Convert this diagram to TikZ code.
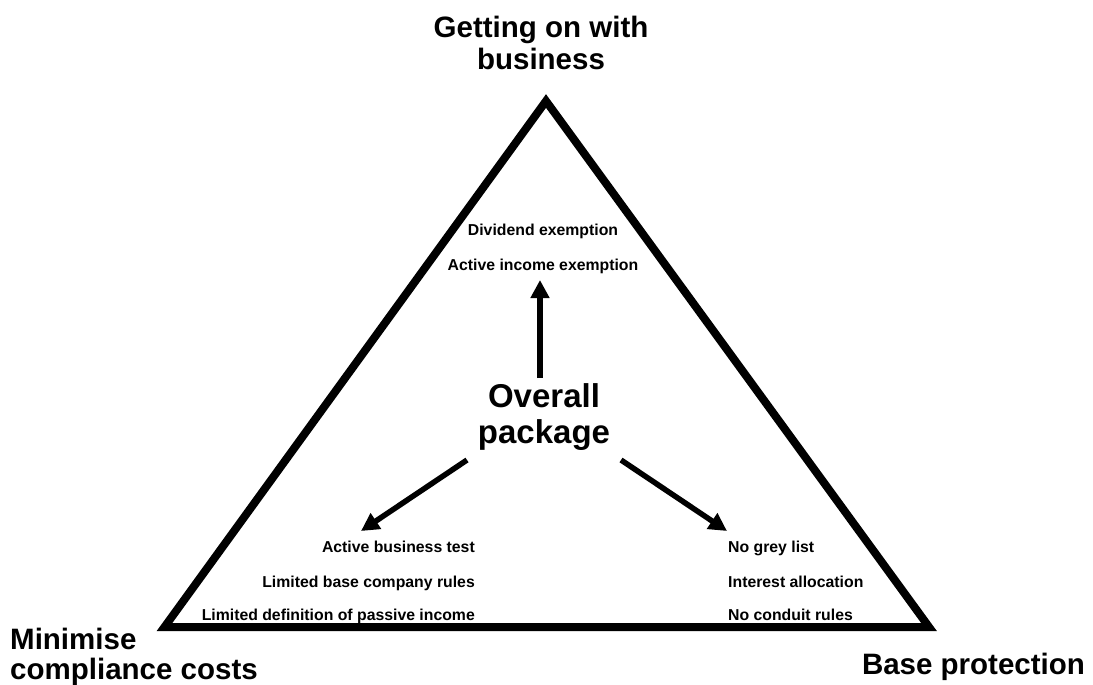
\documentclass[tikz,border=0pt]{standalone}
\usepackage{fontspec}
\setmainfont{Liberation Sans}
\usetikzlibrary{arrows.meta}
\tikzset{
  corner/.style={font=\fontsize{29.5}{32}\selectfont\bfseries, inner sep=0pt, anchor=base},
  centre/.style={font=\fontsize{33}{36}\selectfont\bfseries, inner sep=0pt, anchor=base},
  item/.style={font=\fontsize{15.8}{18}\selectfont\bfseries, inner sep=0pt, anchor=base},
  tri/.style={line width=8pt, line join=miter},
  arr/.style={line width=5.5pt, -{Triangle[length=18pt,width=18pt]}},
}
\begin{document}
\begin{tikzpicture}[x=1pt,y=-1pt]
\useasboundingbox (0,0) rectangle (1093,685);
\coordinate (L) at (164.5,627);
\coordinate (T) at (546,101);
\coordinate (R) at (929,627);
\draw[tri] (L) -- (T) -- (R) -- cycle;

\node[corner] (top1) at (541,38) {Getting on with};
\node[corner] (top2) at (541,70) {business};
\node[corner, anchor=base west] (min1) at (10,649) {Minimise};
\node[corner, anchor=base west] (min2) at (10,679) {compliance costs};
\node[corner] (base) at (973.5,674) {Base protection};

\node[centre] (ov1) at (544,407) {Overall};
\node[centre] (ov2) at (544,443) {package};

\node[item] (div) at (543,235) {Dividend exemption};
\node[item] (aie) at (543,270) {Active income exemption};

\node[item, anchor=base east] (abt) at (475,552) {Active business test};
\node[item, anchor=base east] (lbc) at (475,587) {Limited base company rules};
\node[item, anchor=base east] (ldp) at (475,620.5) {Limited definition of passive income};

\node[item, anchor=base west] (ngl) at (728,552) {No grey list};
\node[item, anchor=base west] (ial) at (728,587) {Interest allocation};
\node[item, anchor=base west] (ncr) at (728,620.5) {No conduit rules};

\coordinate (upS) at (540,378);
\coordinate (upE) at (540,280);
\coordinate (lS) at (467,460);
\coordinate (lE) at (361,531);
\coordinate (rS) at (621,460);
\coordinate (rE) at (727,531);
\draw[arr] (upS) -- (upE);
\draw[arr] (lS) -- (lE);
\draw[arr] (rS) -- (rE);
\end{tikzpicture}
\end{document}
